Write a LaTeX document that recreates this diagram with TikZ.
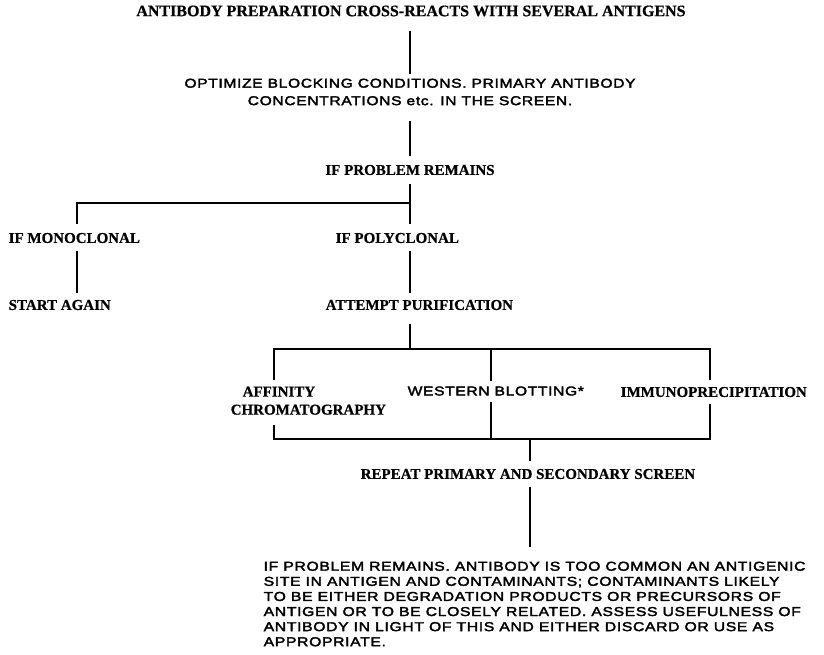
\documentclass[tikz,border=0pt]{standalone}
\usepackage{fontspec}
\newfontfamily\serifb{Liberation Serif}[FakeBold=0.6]
\newfontfamily\sanswide{Liberation Sans}[FakeStretch=1.22,LetterSpace=5,FakeBold=2.6]
\begin{document}
\begin{tikzpicture}[x=1pt,y=-1pt, line width=1.4pt,
  sr/.style={inner sep=0pt, font=\serifb\bfseries\fontsize{15}{18}\selectfont},
  ss/.style={inner sep=0pt, font=\sanswide\fontsize{12.8}{17.5}\selectfont},
  sp/.style={inner sep=0pt, font=\sanswide\fontsize{12.9}{15.1}\selectfont}]
\useasboundingbox (0,0) rectangle (824,654);
\fill[white] (0,0) rectangle (824,654);
% nodes
\node[sr, font=\serifb\bfseries\fontsize{16}{18}\selectfont] (title) at (411,11) {ANTIBODY PREPARATION CROSS-REACTS WITH SEVERAL ANTIGENS};
\node[ss, align=center, anchor=north] (opt) at (410,78) {OPTIMIZE BLOCKING CONDITIONS. PRIMARY ANTIBODY\\CONCENTRATIONS etc. IN THE SCREEN.};
\node[sr] (prob) at (410,170) {IF PROBLEM REMAINS};
\node[sr, anchor=west] (mono) at (8,238) {IF MONOCLONAL};
\node[sr, anchor=west] (poly) at (335,238) {IF POLYCLONAL};
\node[sr, anchor=west] (start) at (8,305) {START AGAIN};
\node[sr, anchor=west] (attempt) at (325,305) {ATTEMPT PURIFICATION};
\node[sr, anchor=north west, align=left] (aff) at (230,386) {\hspace*{12pt}AFFINITY\\CHROMATOGRAPHY};
\node[ss, anchor=west] (west) at (407,391) {WESTERN BLOTTING*};
\node[sr, anchor=west] (immuno) at (620,392) {IMMUNOPRECIPITATION};
\node[sr, anchor=west] (repeat) at (360,474) {REPEAT PRIMARY AND SECONDARY SCREEN};
\node[sp, anchor=north west, align=left] (final) at (263,561) {IF PROBLEM REMAINS. ANTIBODY IS TOO COMMON AN ANTIGENIC\\SITE IN ANTIGEN AND CONTAMINANTS; CONTAMINANTS LIKELY\\TO BE EITHER DEGRADATION PRODUCTS OR PRECURSORS OF\\ANTIGEN OR TO BE CLOSELY RELATED. ASSESS USEFULNESS OF\\ANTIBODY IN LIGHT OF THIS AND EITHER DISCARD OR USE AS\\APPROPRIATE.};
% junction coordinates
\coordinate (spine) at (410,0);
\coordinate (jA) at (410,203);
\coordinate (jM) at (77,203);
\coordinate (tL) at (274,349);
\coordinate (tW) at (491,349);
\coordinate (tR) at (710,349);
\coordinate (tC) at (410,349);
\coordinate (bL) at (274,439);
\coordinate (bW) at (491,439);
\coordinate (bR) at (710,439);
\coordinate (bC) at (530,439);
% connectors
\draw[shorten <=14pt, shorten >=4pt] (spine |- title.south) -- (spine |- opt.north);
\draw[shorten <=15.5pt, shorten >=8pt] (spine |- opt.south) -- (spine |- prob.north);
\draw[shorten <=8pt] (prob.south) -- (jA);
\draw[shorten >=8pt] (jA) -- (jM) -- (jM |- mono.north);
\draw[shorten >=8pt] (jA) -- (jA |- poly.north);
\draw[shorten <=7pt, shorten >=6pt] (jM |- mono.south) -- (jM |- start.north);
\draw[shorten <=7pt, shorten >=6pt] (spine |- poly.south) -- (spine |- attempt.north);
\draw[shorten <=13pt] (spine |- attempt.south) -- (tC);
\draw[shorten <=6pt, shorten >=6pt] (tL |- aff.north) -- (tL) -- (tR) -- (tR |- immuno.north);
\draw[shorten >=5pt] (tW) -- (tW |- west.north);
\draw[shorten <=10pt, shorten >=6pt] (tL |- aff.south) -- (bL) -- (bR) -- (tR |- immuno.south);
\draw[shorten <=6pt] (tW |- west.south) -- (bW);
\draw[shorten >=7pt] (bC) -- (bC |- repeat.north);
\draw[shorten <=7pt, shorten >=14pt] (bC |- repeat.south) -- (bC |- final.north);
\end{tikzpicture}
\end{document}
